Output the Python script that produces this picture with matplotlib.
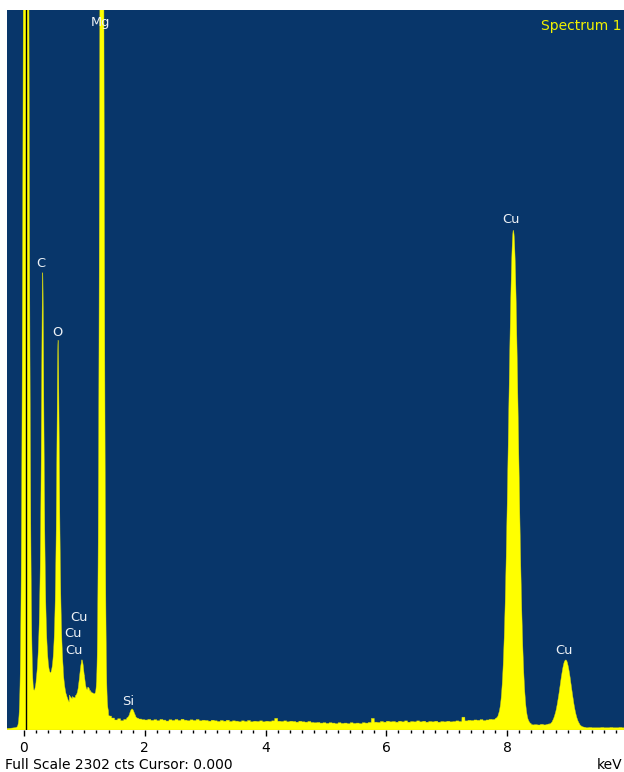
import numpy as np
import matplotlib
matplotlib.use("Agg")
import matplotlib.pyplot as plt

# --- EDS spectrum data -------------------------------------------------
# Characteristic lines: energy (keV), net height (counts), FWHM (keV),
# Lorentzian fraction of the pseudo-Voigt line shape
peak_keV = [0.035, 0.31, 0.565, 0.96, 1.07, 1.29, 1.79, 8.104, 8.97]
peak_counts = [5000, 1388, 1172, 120, 20, 4300, 28, 1570, 212]
peak_fwhm = [0.088, 0.057, 0.060, 0.090, 0.050, 0.069, 0.080, 0.190, 0.220]
peak_eta = [0.0, 1.0, 1.0, 0.2, 0.0, 0.0, 0.0, 0.0, 0.0]

# Bremsstrahlung background, counts per 0.05 keV bin starting at -0.5 keV
bg_start = -0.5
bg_step = 0.05
background_counts = [
    0, 0, 0, 0, 0, 0, 0, 0, 0, 0,            # -0.50 .. -0.05
    40, 55, 60, 58, 62, 60, 60, 58, 56, 58,  # 0.00 .. 0.45
    58, 58, 58, 50, 52, 75, 82, 88, 90, 95,  # 0.50 .. 0.95
    100, 105, 112, 110, 105, 95, 80, 55, 42, 36,  # 1.00 .. 1.45
    30, 34, 28, 32, 36, 38, 38, 36, 34, 32,  # 1.50 .. 1.95
    31, 33, 30, 32, 29, 33, 31, 28, 32, 30,  # 2.00 .. 2.45
    33, 30, 34, 31, 29, 32, 30, 33, 29, 31,  # 2.50 .. 2.95
    30, 28, 31, 29, 27, 30, 28, 31, 27, 29,  # 3.00 .. 3.45
    28, 26, 29, 27, 30, 26, 28, 27, 29, 26,  # 3.50 .. 3.95
    28, 27, 29, 37, 28, 27, 29, 26, 28, 27,  # 4.00 .. 4.45
    25, 28, 26, 25, 27, 24, 23, 24, 22, 23,  # 4.50 .. 4.95
    21, 23, 22, 20, 23, 21, 22, 20, 23, 21,  # 5.00 .. 5.45
    22, 20, 23, 22, 24, 37, 25, 24, 27, 25,  # 5.50 .. 5.95
    28, 26, 27, 25, 28, 26, 29, 25, 27, 26,  # 6.00 .. 6.45
    29, 26, 28, 25, 27, 26, 28, 25, 27, 26,  # 6.50 .. 6.95
    28, 26, 27, 29, 27, 41, 29, 31, 30, 32,  # 7.00 .. 7.45
    31, 33, 30, 32, 34, 33, 35, 37, 38, 36,  # 7.50 .. 7.95
    34, 30, 26, 22, 19, 18, 17, 18, 16, 17,  # 8.00 .. 8.45
    16, 18, 16, 17, 15, 16, 15, 14, 13, 12,  # 8.50 .. 8.95
    11, 10, 9, 9, 8, 8, 7, 8, 7, 7,          # 9.00 .. 9.45
    7, 8, 7, 7, 8, 7, 7, 8, 7, 7,            # 9.50 .. 9.95
]

full_scale = 2302
cursor_keV = 0.03
x_min, x_max = -0.281, 9.934
major_ticks = [0, 2, 4, 6, 8]

element_labels = [
    ("Mg", 1.26, 2262),
    ("C", 0.273, 1490),
    ("O", 0.547, 1272),
    ("Cu", 0.91, 361),
    ("Cu", 0.81, 307),
    ("Cu", 0.83, 253),
    ("Si", 1.73, 90),
    ("Cu", 8.07, 1631),
    ("Cu", 8.94, 253),
]

# --- build the spectrum -----------------------------------------------
def pseudo_voigt(e, center, height, fwhm, eta):
    t = 2.0 * (e - center) / fwhm
    return height * (eta / (1.0 + t ** 2) + (1.0 - eta) * np.exp(-np.log(2.0) * t ** 2))

energy = np.arange(x_min, x_max + 0.005, 0.0025)
bg = np.asarray(background_counts, dtype=float)
bin_index = np.clip(np.floor((energy - bg_start) / bg_step).astype(int), 0, len(bg) - 1)
counts = bg[bin_index].copy()
for c, h, w, eta in zip(peak_keV, peak_counts, peak_fwhm, peak_eta):
    counts += pseudo_voigt(energy, c, h, w, eta)

# --- figure -----------------------------------------------------------
W, H = 624, 772
fig = plt.figure(figsize=(W / 100, H / 100), dpi=100)
fig.patch.set_facecolor("white")

left_px, right_px, top_px, bottom_px = 7, 624, 10, 730
ax = fig.add_axes([left_px / W, 1 - bottom_px / H,
                   (right_px - left_px) / W, (bottom_px - top_px) / H])
navy = "#08366a"
ax.set_facecolor(navy)
ax.set_xlim(x_min, x_max)
ax.set_ylim(0, full_scale)

ax.fill_between(energy, 0, counts, color="#ffff00", linewidth=0.3,
                edgecolor="#d8d810", zorder=2)
ax.axvline(cursor_keV, color="black", linewidth=1.0, zorder=3)

for s in ax.spines.values():
    s.set_visible(False)

ax.set_yticks([])
ax.set_xticks(major_ticks)
ax.set_xticklabels([str(t) for t in major_ticks])
ax.set_xticks(np.arange(0.2, x_max, 0.2), minor=True)
ax.tick_params(axis="x", which="major", direction="out", length=4.2, width=1,
               color="black", pad=3.5, labelsize=10, labelcolor="black")
ax.tick_params(axis="x", which="minor", direction="out", length=2.2, width=1,
               color="black")

font = "DejaVu Sans"
for text, ex, cy in element_labels:
    ax.text(ex, cy, text, ha="center", va="center", color="#eef2f6",
            fontsize=9.4, family=font, zorder=4)

ax.text(0.996, 0.987, "Spectrum 1", transform=ax.transAxes, ha="right",
        va="top", color="#f2f200", fontsize=10, family=font, zorder=4)

fig.text(5 / W, 1 - 765 / H, "Full Scale 2302 cts Cursor: 0.000",
         ha="left", va="center", color="black", fontsize=10, family=font)
fig.text(597 / W, 1 - 765 / H, "keV", ha="left", va="center",
         color="black", fontsize=10, family=font)

fig.savefig("out.png", dpi=100, facecolor="white")
